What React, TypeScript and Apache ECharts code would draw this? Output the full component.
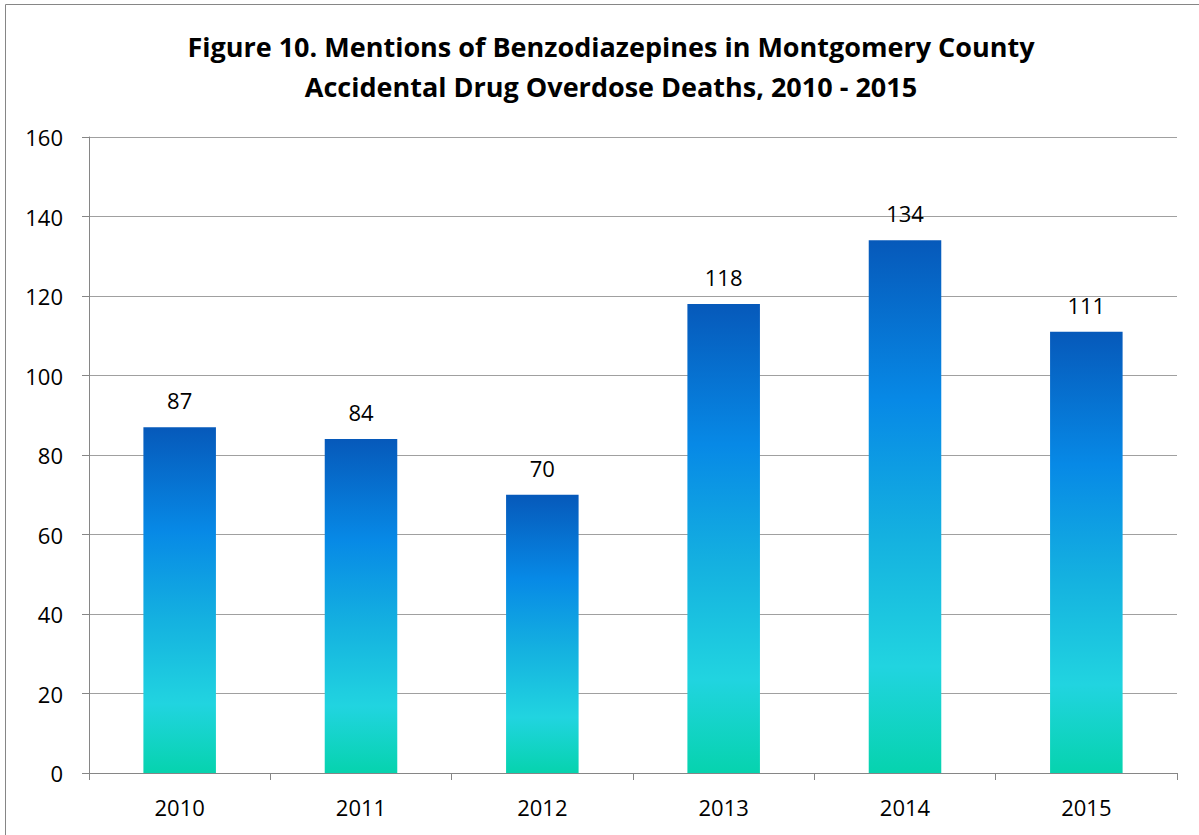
import React, { useEffect, useRef } from "react";
import * as echarts from "echarts";

const categories = ["2010", "2011", "2012", "2013", "2014", "2015"];
const deaths = [87, 84, 70, 118, 134, 111];
const titleLines = [
  "Figure 10. Mentions of Benzodiazepines in Montgomery County",
  "Accidental Drug Overdose Deaths, 2010 - 2015",
];

const FONT = "'Open Sans', Lato, sans-serif";

export default function App() {
  const ref = useRef<HTMLDivElement>(null);
  useEffect(() => {
    document.body.style.margin = "0";
    const chart = echarts.init(ref.current!, null, { renderer: "svg" });
    const barGrad = new echarts.graphic.LinearGradient(0, 0, 0, 1, [
      { offset: 0, color: "#0659BA" },
      { offset: 0.3, color: "#0789E6" },
      { offset: 0.55, color: "#14B0E0" },
      { offset: 0.8, color: "#21D4E0" },
      { offset: 1, color: "#06D3AE" },
    ]);
    chart.setOption({
      animation: false,
      backgroundColor: "#ffffff",
      title: {
        text: titleLines.join("\n"),
        left: 606,
        textAlign: "center",
        top: 21,
        textStyle: {
          fontFamily: FONT,
          fontWeight: "bold",
          fontSize: 27,
          lineHeight: 40,
          color: "#000",
        },
      },
      graphic: [
        {
          type: "rect",
          shape: { x: 5.5, y: 4.5, width: 1250, height: 900 },
          style: { fill: "none", stroke: "#868686", lineWidth: 1 },
          silent: true,
        },
      ],
      grid: { left: 89, top: 137, right: 22, bottom: 62 },
      xAxis: {
        type: "category",
        data: categories,
        axisLine: { lineStyle: { color: "#868686" } },
        axisTick: { show: true, length: 7, lineStyle: { color: "#868686" } },
        axisLabel: { color: "#000", fontFamily: FONT, fontSize: 22, margin: 23 },
      },
      yAxis: {
        type: "value",
        min: 0,
        max: 160,
        interval: 20,
        axisLine: { show: true, lineStyle: { color: "#868686" } },
        axisTick: { show: true, length: 7, lineStyle: { color: "#868686" } },
        axisLabel: { color: "#000", fontFamily: FONT, fontSize: 22, margin: 26 },
        splitLine: { lineStyle: { color: "#A0A0A0" } },
      },
      series: [
        {
          type: "bar",
          data: deaths,
          barWidth: "40%",
          itemStyle: { color: barGrad },
          label: {
            show: true,
            position: "top",
            distance: 16,
            color: "#000",
            fontFamily: FONT,
            fontSize: 22,
          },
        },
      ],
    });
    return () => chart.dispose();
  }, []);
  return <div ref={ref} style={{ width: 1199, height: 835 }} />;
}
